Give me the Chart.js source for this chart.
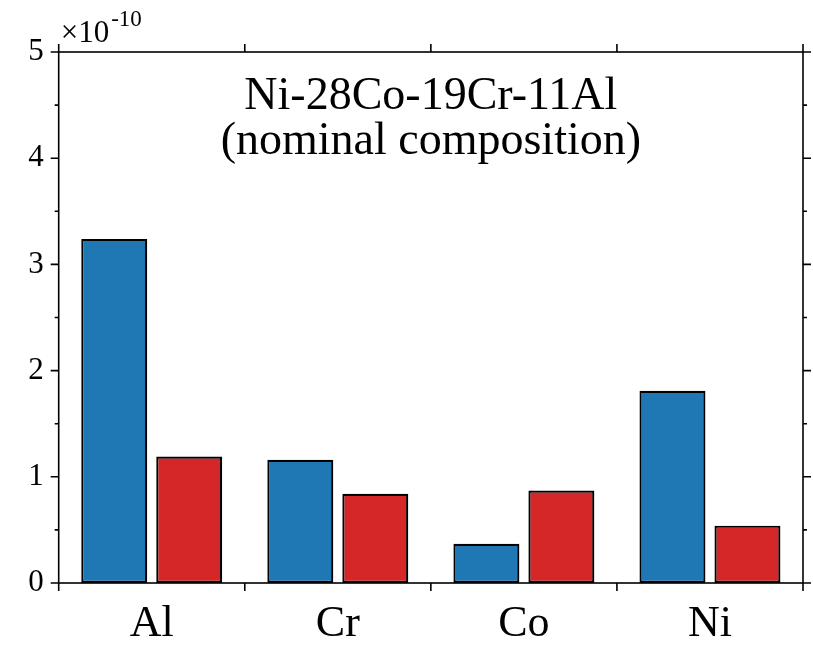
<!DOCTYPE html>
<html>
<head>
<meta charset="utf-8">
<script src="https://cdn.jsdelivr.net/npm/chart.js@4.4.1/dist/chart.umd.min.js"></script>
<style>
html,body{margin:0;padding:0;background:#fff;}
#wrap{width:813px;height:655px;position:relative;}
</style>
</head>
<body>
<div id="wrap"><canvas id="c" width="813" height="655"></canvas></div>
<script>
const categories = ['Al', 'Cr', 'Co', 'Ni'];
const seriesBlue = [3.24, 1.16, 0.37, 1.81];
const seriesRed = [1.19, 0.84, 0.87, 0.54];
const yTickValues = [0, 1, 2, 3, 4, 5];
const titleLines = ['Ni-28Co-19Cr-11Al', '(nominal composition)'];
const exponentBase = '\u00d710';
const exponentSup = '-10';

const SERIF = '"Liberation Serif", "DejaVu Serif", serif';

const framePlugin = {
  id: 'framePlugin',
  afterDatasetsDraw(chart) {
    const ctx = chart.ctx;
    const a = chart.chartArea;
    const xs = chart.scales.x, ys = chart.scales.y;
    ctx.save();
    ctx.strokeStyle = '#000';
    ctx.lineWidth = 1.6;
    ctx.strokeRect(a.left, a.top, a.right - a.left, a.bottom - a.top);
    const n = categories.length;
    const bounds = [];
    for (let i = 0; i <= n; i++) {
      let p;
      if (i === 0) p = a.left;
      else if (i === n) p = a.right;
      else p = (xs.getPixelForValue(i - 1) + xs.getPixelForValue(i)) / 2;
      bounds.push(p);
    }
    ctx.beginPath();
    bounds.forEach(p => {
      ctx.moveTo(p, a.bottom); ctx.lineTo(p, a.bottom + 8);
      ctx.moveTo(p, a.top); ctx.lineTo(p, a.top - 8);
    });
    yTickValues.forEach((v, i) => {
      const py = ys.getPixelForValue(v);
      ctx.moveTo(a.left, py); ctx.lineTo(a.left - 8, py);
      ctx.moveTo(a.right, py); ctx.lineTo(a.right + 8, py);
      if (i < yTickValues.length - 1) {
        const pm = ys.getPixelForValue((v + yTickValues[i + 1]) / 2);
        ctx.moveTo(a.left, pm); ctx.lineTo(a.left - 4, pm);
        ctx.moveTo(a.right, pm); ctx.lineTo(a.right + 4, pm);
      }
    });
    ctx.stroke();
    ctx.fillStyle = '#000';
    ctx.textAlign = 'center';
    ctx.textBaseline = 'alphabetic';
    ctx.font = '46px ' + SERIF;
    const cx = (a.left + a.right) / 2;
    ctx.fillText(titleLines[0], cx, a.top + 57);
    ctx.fillText(titleLines[1], cx, a.top + 102);
    ctx.textAlign = 'left';
    ctx.font = '31px ' + SERIF;
    ctx.fillText(exponentBase, a.left + 2, a.top - 10);
    const w = ctx.measureText(exponentBase).width;
    ctx.font = '23px ' + SERIF;
    ctx.fillText(exponentSup, a.left + 2 + w + 2, a.top - 26);
    ctx.restore();
  }
};

new Chart(document.getElementById('c'), {
  type: 'bar',
  data: {
    labels: categories,
    datasets: [
      { data: seriesBlue, backgroundColor: '#1f77b4', borderColor: '#000', borderWidth: 2.2, borderSkipped: false },
      { data: seriesRed, backgroundColor: '#d62728', borderColor: '#000', borderWidth: 2.2, borderSkipped: false }
    ]
  },
  options: {
    responsive: false,
    animation: false,
    devicePixelRatio: 1,
    layout: { padding: { left: 0, right: 10, top: 52, bottom: 0 } },
    plugins: { legend: { display: false }, title: { display: false }, tooltip: { enabled: false } },
    datasets: { bar: { categoryPercentage: 0.806, barPercentage: 0.88 } },
    scales: {
      x: {
        offset: true,
        grid: { display: false, drawTicks: false },
        border: { display: false },
        ticks: { color: '#000', font: { family: SERIF, size: 44 }, padding: 15, maxRotation: 0 },
        afterFit(s) { s.height = 72; }
      },
      y: {
        min: 0, max: 5,
        grid: { display: false, drawTicks: false },
        border: { display: false },
        afterBuildTicks(s) { s.ticks = yTickValues.map(v => ({ value: v })); },
        ticks: { color: '#000', font: { family: SERIF, size: 31 }, padding: 15 },
        afterFit(s) { s.width = 58.7; }
      }
    }
  },
  plugins: [framePlugin]
});
</script>
</body>
</html>
